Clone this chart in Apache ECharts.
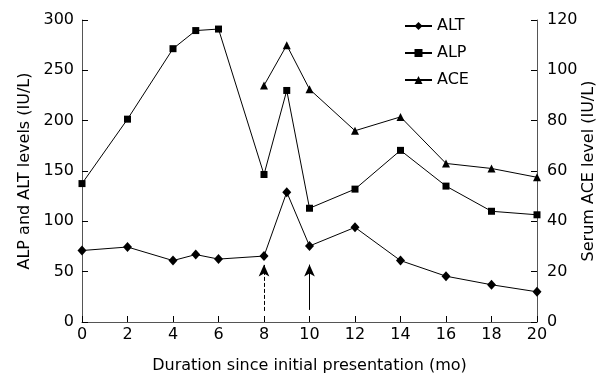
<!DOCTYPE html>
<html><head><meta charset="utf-8">
<script src="https://cdn.jsdelivr.net/npm/echarts@6/dist/echarts.min.js"></script>
<style>html,body{margin:0;padding:0;background:#fff}#c{width:603px;height:376px}</style>
</head><body><div id="c"></div>
<script>
var months = [0, 2, 4, 5, 6, 8, 9, 10, 12, 14, 16, 18, 20];
var altValues = [71, 74.5, 61, 67, 62.5, 65.5, 129, 75.5, 94, 61, 45.5, 37, 30];
var alpValues = [137.5, 201.5, 271.5, 289.5, 291, 146.5, 230, 113, 132, 170.5, 135, 110, 106.5];
var aceMonths = [8, 9, 10, 12, 14, 16, 18, 20];
var aceValues = [94, 110, 92.5, 76, 81.5, 63, 61, 57.5];
var xTicks = [0, 2, 4, 6, 8, 10, 12, 14, 16, 18, 20];
var leftTicks = [0, 50, 100, 150, 200, 250, 300];
var rightTicks = [0, 20, 40, 60, 80, 100, 120];
var arrowMonths = [8, 10];
var arrowFrom = [11, 12];
var arrowTo = [57, 57];
var arrowStyles = ['dashed', 'solid'];

var font = 'Verdana, "DejaVu Sans", sans-serif';
var fs = 16;
var axisCol = '#555';
function pair(xs, ys){ return xs.map(function(x,i){return [x, ys[i]];}); }

var arrowLines = arrowMonths.map(function(m,i){
  return [{coord:[m, arrowFrom[i]], lineStyle:{type:arrowStyles[i], color:'#000', width:1}},{coord:[m, arrowTo[i]]}];
});

var chart = echarts.init(document.getElementById('c'));
chart.setOption({
  animation:false,
  textStyle:{fontFamily:font},
  grid:{left:82, right:66, top:20, bottom:54, containLabel:false, outerBoundsMode:'none'},
  legend:{
    orient:'vertical', left:399, top:13, itemGap:11, itemWidth:27, itemHeight:10,
    textStyle:{fontFamily:font, fontSize:fs, color:'#000'},
    data:['ALT','ALP','ACE']
  },
  xAxis:{
    type:'value', min:xTicks[0], max:xTicks[xTicks.length-1], interval:2,
    name:'Duration since initial presentation (mo)', nameLocation:'middle', nameGap:36,
    nameMoveOverlap:false,
    nameTextStyle:{fontFamily:font, fontSize:fs, color:'#000'},
    axisLine:{lineStyle:{color:axisCol, width:1}},
    axisTick:{inside:true, length:6, lineStyle:{color:'#000'}},
    axisLabel:{fontFamily:font, fontSize:fs, color:'#000', margin:5},
    splitLine:{show:false}
  },
  yAxis:[{
    type:'value', min:leftTicks[0], max:leftTicks[leftTicks.length-1], interval:50,
    name:'ALP and ALT levels (IU/L)', nameLocation:'middle', nameGap:49, nameRotate:90,
    nameMoveOverlap:false,
    nameTextStyle:{fontFamily:font, fontSize:fs, color:'#000'},
    axisLine:{show:true, lineStyle:{color:axisCol, width:1}},
    axisTick:{show:true, inside:true, length:6, lineStyle:{color:'#000'}},
    axisLabel:{fontFamily:font, fontSize:fs, color:'#000', margin:8},
    splitLine:{show:false}
  },{
    type:'value', min:rightTicks[0], max:rightTicks[rightTicks.length-1], interval:20,
    position:'right',
    name:'Serum ACE level (IU/L)', nameLocation:'middle', nameGap:44, nameRotate:90,
    nameMoveOverlap:false,
    nameTextStyle:{fontFamily:font, fontSize:fs, color:'#000'},
    axisLine:{show:true, lineStyle:{color:axisCol, width:1}},
    axisTick:{show:true, inside:true, length:6, lineStyle:{color:'#000'}},
    axisLabel:{fontFamily:font, fontSize:fs, color:'#000', margin:10},
    splitLine:{show:false}
  }],
  series:[{
    name:'ALT', type:'line', yAxisIndex:0, data:pair(months, altValues),
    symbol:'diamond', symbolSize:[9,10], itemStyle:{color:'#000'},
    lineStyle:{color:'#000', width:1},
    markLine:{silent:true, symbol:['none','arrow'], symbolSize:[8,12], label:{show:false},
      lineStyle:{color:'#000', width:1}, data:arrowLines}
  },{
    name:'ALP', type:'line', yAxisIndex:0, data:pair(months, alpValues),
    symbol:'rect', symbolSize:7, itemStyle:{color:'#000'},
    lineStyle:{color:'#000', width:1}
  },{
    name:'ACE', type:'line', yAxisIndex:1, data:pair(aceMonths, aceValues),
    symbol:'triangle', symbolSize:[8,8], itemStyle:{color:'#000'},
    lineStyle:{color:'#000', width:1}
  }]
});
</script></body></html>
